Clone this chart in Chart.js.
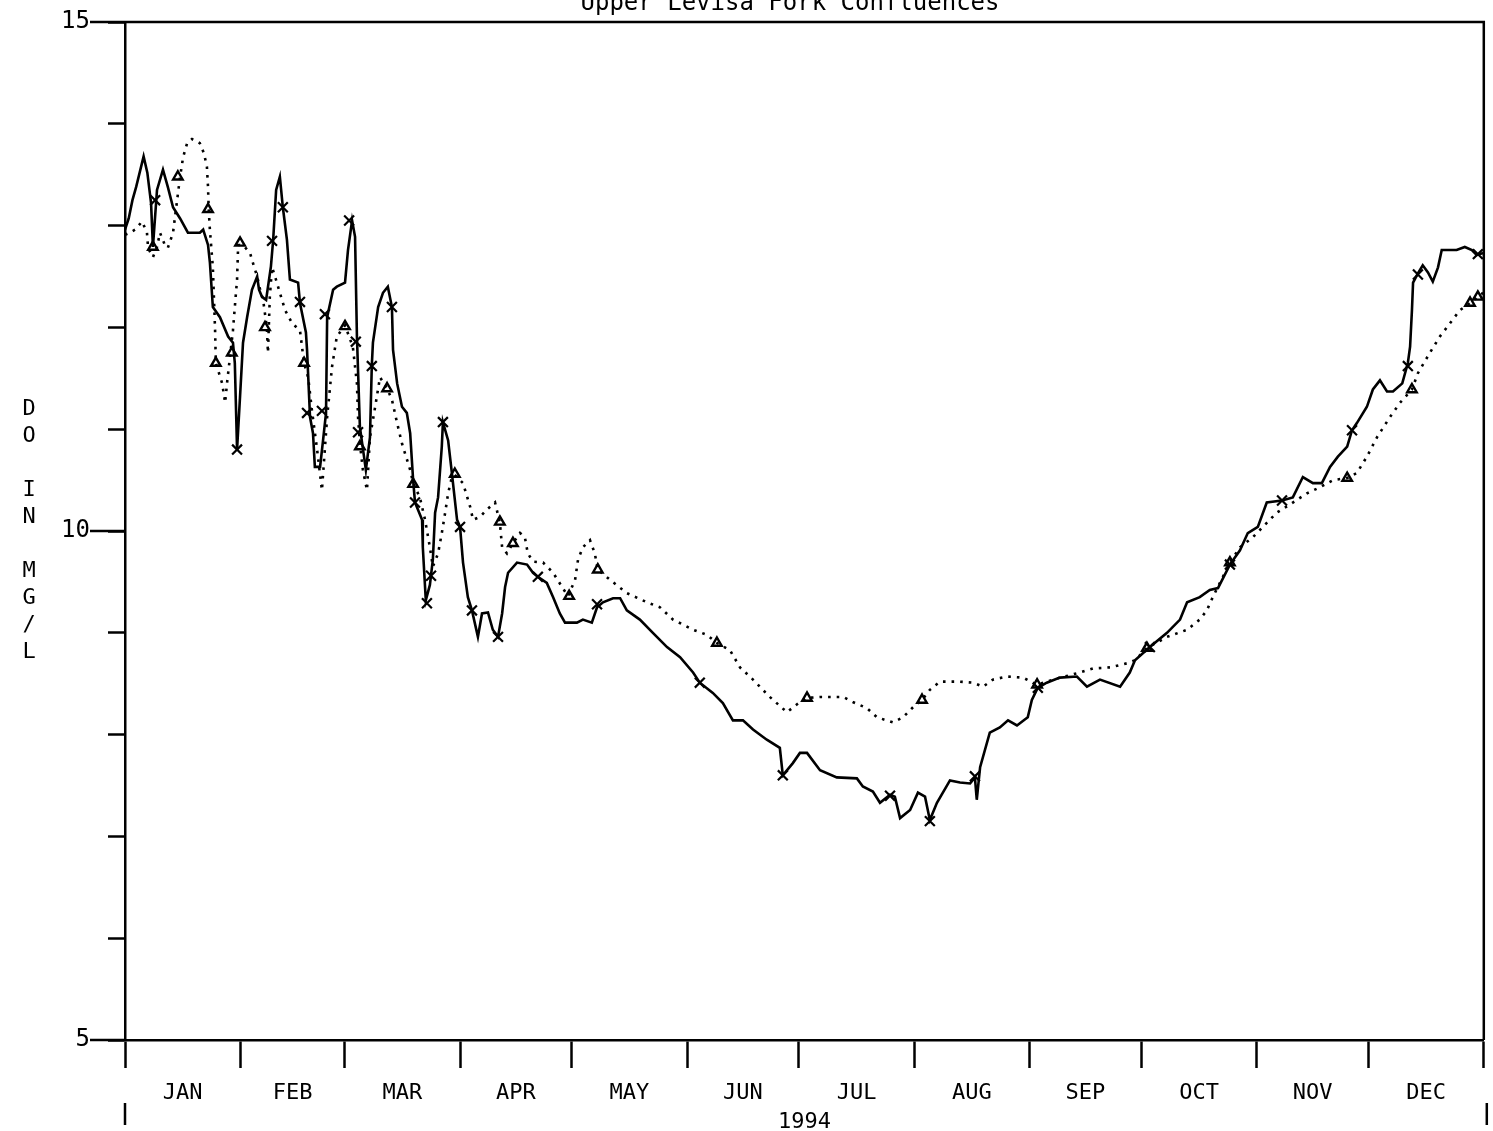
<!DOCTYPE html>
<html>
<head>
<meta charset="utf-8">
<script src="https://cdn.jsdelivr.net/npm/chart.js@4/dist/chart.umd.min.js"></script>
<style>
  html, body { margin: 0; padding: 0; background: #fff; }
  #wrap { width: 1493px; height: 1131px; }
</style>
</head>
<body>
<div id="wrap"><canvas id="c" width="1493" height="1131"></canvas></div>
<script>
// ---- DATA ----
const chartTitle = 'Upper Levisa Fork Confluences';
const yearLabel = '1994';
const monthNames = ['JAN','FEB','MAR','APR','MAY','JUN','JUL','AUG','SEP','OCT','NOV','DEC'];
const monthStarts = [0,31,59,90,120,151,181,212,243,273,304,334,365];
const yTickValues = [5,6,7,8,9,10,11,12,13,14,15];
const yLabeledTicks = [5,10,15];
const yTitleChars = ['D','O','','I','N','','M','G','/','L'];

// Solid series (day of year, DO mg/L)
const solidDays = [0,1,2,3,5,6,7,7.5,8.6,10.2,
 11.5,12.9,14.8,16.9,20.1,21,22.3,22.8,23.6,25.5,
 27.7,29,29.5,30.1,30.9,31.7,32.8,34.1,35.5,36,
 36.8,37.9,39.2,39.8,40.6,41.6,42.4,43.5,44.3,46.5,
 47,48.6,48.9,49.7,50.5,51,52.4,53.2,54,54.3,
 55.9,56.9,59.1,59.9,61,61.8,62.3,63.1,64.7,65.8,
 66.3,66.6,68,69.3,70.6,71.7,72,73.1,74.4,75.7,
 76.6,77.4,77.9,79.8,80,80.8,81.9,82.7,83.3,84.1,
 85.1,85.4,86.8,87.8,89.2,90,90.8,92.1,93.2,94.8,
 95.9,97.5,98.8,100.2,101.3,102.1,102.9,105.3,108,109.6,
 110.9,113.3,115,116.8,118.2,121.4,123,125.4,126.8,128.4,
 131.1,133,134.8,138.3,141.8,145.6,149.1,152.6,154.4,157.9,
 160.6,163.3,166,168.7,172.4,175.9,176.7,179.4,181.3,183.2,
 186.7,191.2,196.6,198.2,200.9,202.8,205.5,206.8,208.2,210.9,
 213,214.9,216.2,218.1,221.6,224.3,227,228.3,228.8,229.7,
 232.3,235,237.2,239.6,242.5,243.6,245.2,247.6,251.1,255.7,
 258.4,261.9,267.3,269.9,271.3,275.3,279.9,283.4,285.3,288.7,
 291.4,293.6,296.8,299.5,301.6,304.3,306.7,310.8,313.7,316.4,
 319.1,321.5,323.7,325.8,328.3,329.6,330.9,333.6,335.2,337.1,
 339,340.6,343.1,344.6,345.2,345.7,346,347.3,348.6,350,
 351.3,352.7,353.7,357.7,359.9,361.8,363.1,364.8];
const solidDO = [12.96,13.07,13.25,13.38,13.68,13.52,13.22,12.79,13.35,13.55,
 13.38,13.18,13.07,12.93,12.93,12.96,12.81,12.64,12.20,12.10,
 11.91,11.85,11.65,10.80,11.32,11.85,12.10,12.37,12.50,12.37,
 12.30,12.27,12.60,12.86,13.35,13.48,13.18,12.86,12.47,12.44,
 12.24,11.95,11.78,11.12,10.96,10.63,10.63,10.89,11.16,12.10,
 12.37,12.40,12.44,12.76,13.05,12.89,11.91,11.02,10.60,10.92,
 11.63,11.85,12.20,12.34,12.40,12.20,11.78,11.45,11.22,11.16,
 10.96,10.50,10.28,10.11,9.84,9.32,9.47,9.72,10.18,10.33,
 10.83,11.07,10.89,10.57,10.11,10.04,9.69,9.35,9.22,8.96,
 9.19,9.20,9.03,8.96,9.19,9.45,9.59,9.69,9.67,9.59,
 9.55,9.49,9.35,9.19,9.10,9.10,9.13,9.10,9.25,9.30,
 9.34,9.34,9.22,9.13,9.00,8.86,8.76,8.61,8.51,8.41,
 8.31,8.14,8.14,8.05,7.95,7.87,7.60,7.72,7.82,7.82,
 7.65,7.58,7.57,7.49,7.44,7.33,7.41,7.39,7.18,7.26,
 7.43,7.39,7.16,7.33,7.55,7.53,7.52,7.58,7.36,7.68,
 8.02,8.07,8.14,8.09,8.17,8.34,8.46,8.51,8.56,8.57,
 8.47,8.54,8.47,8.61,8.73,8.86,9.00,9.13,9.30,9.35,
 9.42,9.44,9.67,9.81,9.98,10.04,10.28,10.30,10.33,10.53,
 10.47,10.47,10.63,10.73,10.83,10.99,11.06,11.22,11.39,11.48,
 11.37,11.37,11.45,11.65,11.81,12.17,12.44,12.53,12.61,12.54,
 12.45,12.59,12.76,12.76,12.79,12.76,12.71,12.73];

// Dotted series (day of year, DO mg/L)
const dottedDays = [0,1.3,2.7,4.6,5.9,6.2,7.5,8.6,9.4,10.7,
 11.5,12.9,14,14.8,15.6,16.7,18,20.1,21.2,22,
 22.3,22.5,22.8,23.6,24.2,24.4,25,26.1,26.9,27.4,
 28.2,29,29.5,30.1,30.4,31.7,33.6,34.4,35.5,36.3,
 37.1,38.1,38.4,38.9,39.5,40.3,41.6,43,44.9,47,
 48.1,49.2,50.2,51.6,52.9,54.3,55.6,56.9,59.1,61.2,
 62.3,62.6,63.1,63.9,65,65.8,67.2,68.5,70.4,71.7,
 73.1,74.4,76.6,77.4,79.2,80.6,81.9,82.7,84.1,85.1,
 86,86.8,87.8,88.6,90.8,92.7,93.5,95.4,97.2,99.4,
 100.7,101.3,102.6,104.2,106.1,107.4,108.2,109.6,112.3,115,
 117.4,119,120.9,121.7,123,124.9,126.2,127,130.3,134.8,
 140.2,143.7,147.2,152.6,156.3,159,162.5,165.2,168.7,173.2,
 177.8,181.3,183.2,186.7,192.9,195.5,199.3,202,206.3,209,
 211.7,214.1,216.2,218.9,224.3,227.8,230.5,233.1,236.9,241.2,
 245,249.3,256.5,260,264.6,269.1,271.3,274.5,279.9,285.3,
 288.7,290.6,292.2,294.1,296.8,299.5,303,306.7,309.4,312.9,
 317.5,321,324.5,328.3,330.9,333.6,336.3,339.8,342.5,345.7,
 347.3,350.5,353.2,355.9,358.6,361.3,363.4,364.8];
const dottedDO = [12.91,12.93,12.96,13.04,12.93,12.78,12.69,12.79,12.93,12.81,
 12.78,12.93,13.25,13.48,13.67,13.81,13.85,13.81,13.71,13.58,
 13.38,13.15,12.96,12.59,11.97,11.65,11.58,11.45,11.26,11.45,
 11.71,11.97,12.20,12.47,12.81,12.81,12.73,12.63,12.50,12.37,
 12.27,12.00,11.75,12.30,12.59,12.50,12.34,12.17,12.04,11.97,
 11.65,11.51,11.19,10.80,10.40,11.12,11.61,11.91,12.02,11.81,
 11.45,11.12,10.86,10.60,10.40,10.92,11.22,11.51,11.40,11.29,
 11.06,10.86,10.60,10.47,10.33,10.11,9.84,9.65,9.78,9.98,
 10.18,10.37,10.53,10.55,10.47,10.24,10.11,10.14,10.21,10.28,
 10.08,9.84,9.78,9.88,9.98,9.94,9.78,9.70,9.69,9.59,
 9.45,9.36,9.52,9.72,9.84,9.91,9.78,9.62,9.52,9.39,
 9.30,9.25,9.13,9.03,8.98,8.90,8.83,8.66,8.54,8.37,
 8.22,8.32,8.36,8.37,8.37,8.32,8.26,8.17,8.12,8.17,
 8.27,8.34,8.44,8.52,8.52,8.51,8.47,8.54,8.57,8.56,
 8.49,8.54,8.61,8.65,8.66,8.70,8.73,8.85,8.96,9.03,
 9.13,9.22,9.35,9.49,9.69,9.84,9.94,10.08,10.18,10.26,
 10.37,10.43,10.50,10.52,10.57,10.73,10.92,11.12,11.26,11.39,
 11.55,11.75,11.91,12.04,12.17,12.24,12.30,12.34];

// Plot symbols along the curves
const xMarkDays = [8.1,30.1,39.5,42.4,47,48.9,52.9,53.7,60.2,62,62.6,66.3,71.7,77.9,81.1,82.2,85.4,90,93.2,100.2,110.9,126.8,154.4,176.7,205.5,216.2,228.3,245.2,275.3,296.8,310.8,329.6,344.6,347.3,363.4];
const xMarkDO = [13.25,10.80,12.85,13.18,12.25,11.16,11.18,12.13,13.05,11.86,10.97,11.62,12.20,10.28,9.29,9.56,11.07,10.04,9.22,8.96,9.55,9.28,8.51,7.60,7.40,7.15,7.59,8.46,8.86,9.67,10.30,10.99,11.62,12.52,12.72];
const triMarkDays = [7.5,14.2,22.3,24.4,28.7,30.9,37.6,48.1,59.1,63.1,70.4,77.4,88.6,100.7,104.2,119.3,127,159,183.2,214.1,245,274.5,296.8,328.3,345.7,361.3,363.4];
const triMarkDO = [12.79,13.48,13.16,11.65,11.75,12.83,12.0,11.65,12.01,10.83,11.40,10.46,10.56,10.09,9.88,9.36,9.62,8.90,8.36,8.34,8.49,8.85,9.69,10.52,11.39,12.24,12.30];

// ---- BUILD ----
const pts = (xs, ys) => xs.map((x, i) => ({x: x, y: ys[i]}));
const FONT = "'DejaVu Sans Mono', 'Liberation Mono', monospace";
const INK = '#000';

const xTicks = [];
monthStarts.forEach(v => xTicks.push({value: v, mid: false}));
for (let i = 0; i < monthNames.length; i++) {
  xTicks.push({value: (monthStarts[i] + monthStarts[i+1]) / 2, mid: true, name: monthNames[i]});
}
xTicks.sort((a, b) => a.value - b.value);

const decorPlugin = {
  id: 'decor',
  afterDraw(chart) {
    const ctx = chart.ctx;
    const a = chart.chartArea;
    const ys = chart.scales.y, xs = chart.scales.x;
    ctx.save();
    ctx.strokeStyle = INK;
    ctx.lineWidth = 2.5;
    // frame top & right
    ctx.beginPath();
    ctx.moveTo(a.left, a.top); ctx.lineTo(a.right, a.top); ctx.lineTo(a.right, a.bottom);
    ctx.stroke();
    // long ticks for labeled values
    yLabeledTicks.forEach(v => {
      const py = ys.getPixelForValue(v);
      ctx.beginPath(); ctx.moveTo(90, py); ctx.lineTo(a.left, py); ctx.stroke();
    });
    // year boundary marks
    [0, 365].forEach(d => {
      const px = xs.getPixelForValue(d) + (d === 365 ? 3 : 0);
      ctx.beginPath(); ctx.moveTo(px, 1103); ctx.lineTo(px, 1125); ctx.stroke();
    });
    ctx.fillStyle = INK;
    // title (partly above the top edge, as in the original)
    ctx.font = "24px " + FONT;
    ctx.textAlign = 'center';
    ctx.textBaseline = 'alphabetic';
    ctx.fillText(chartTitle, 790, 10);
    // stacked y-axis title
    ctx.font = "22px " + FONT;
    ctx.textBaseline = 'middle';
    const step = 27;
    const cy = (a.top + a.bottom) / 2;
    const start = cy - (yTitleChars.length - 1) / 2 * step;
    yTitleChars.forEach((ch, i) => { if (ch) ctx.fillText(ch, 29, start + i * step); });
    ctx.restore();
  }
};

new Chart(document.getElementById('c'), {
  type: 'line',
  data: {
    datasets: [
      { label: 'solid', data: pts(solidDays, solidDO), borderColor: INK, borderWidth: 2.6,
        pointRadius: 0, tension: 0, fill: false, order: 2 },
      { label: 'dotted', data: pts(dottedDays, dottedDO), borderColor: INK, borderWidth: 2.6,
        borderDash: [2.6, 6], borderCapStyle: 'butt', pointRadius: 0, tension: 0, fill: false, order: 3 },
      { label: 'x marks', type: 'scatter', data: pts(xMarkDays, xMarkDO), showLine: false,
        pointStyle: 'crossRot', pointRadius: 7, pointBorderWidth: 2.2, borderColor: INK, backgroundColor: INK, order: 1 },
      { label: 'triangle marks', type: 'scatter', data: pts(triMarkDays, triMarkDO), showLine: false,
        pointStyle: 'triangle', pointRadius: 5.5, pointBorderWidth: 2.4, borderColor: INK, backgroundColor: 'rgba(0,0,0,0)', order: 1 }
    ]
  },
  options: {
    responsive: false,
    animation: false,
    devicePixelRatio: 1,
    layout: { padding: { left: 0, right: 9, top: 22, bottom: 0 } },
    plugins: {
      legend: { display: false },
      tooltip: { enabled: false },
      title: { display: false }
    },
    scales: {
      x: {
        type: 'linear', min: 0, max: 365,
        afterBuildTicks: s => { s.ticks = xTicks.map(t => Object.assign({}, t)); },
        afterFit: s => { s.height = 91; s.paddingLeft = 0; s.paddingRight = 0; },
        ticks: {
          autoSkip: false, maxRotation: 0, minRotation: 0, color: INK, padding: 12,
          font: { family: FONT, size: 22 },
          callback: (v, i, ticks) => ticks[i].mid ? ticks[i].name : ''
        },
        grid: {
          drawOnChartArea: false, drawTicks: true, tickLength: 28, tickWidth: 2.5,
          tickColor: c => (c.tick && c.tick.mid) ? 'rgba(0,0,0,0)' : INK
        },
        border: { display: true, color: INK, width: 2.5 },
        title: { display: true, text: yearLabel, color: INK,
          font: { family: FONT, size: 22, lineHeight: 1 }, padding: { top: 0, bottom: -2 } }
      },
      y: {
        type: 'linear', min: 5, max: 15,
        afterBuildTicks: s => { s.ticks = yTickValues.map(v => ({value: v})); },
        afterFit: s => { s.width = 125; s.paddingTop = 0; s.paddingBottom = 0; },
        ticks: {
          color: INK, padding: 18, font: { family: FONT, size: 24 },
          callback: v => yLabeledTicks.includes(v) ? String(v) : ''
        },
        grid: { drawOnChartArea: false, drawTicks: true, tickLength: 17, tickWidth: 2.5, tickColor: INK },
        border: { display: true, color: INK, width: 2.5 }
      }
    }
  },
  plugins: [decorPlugin]
});
</script>
</body>
</html>
